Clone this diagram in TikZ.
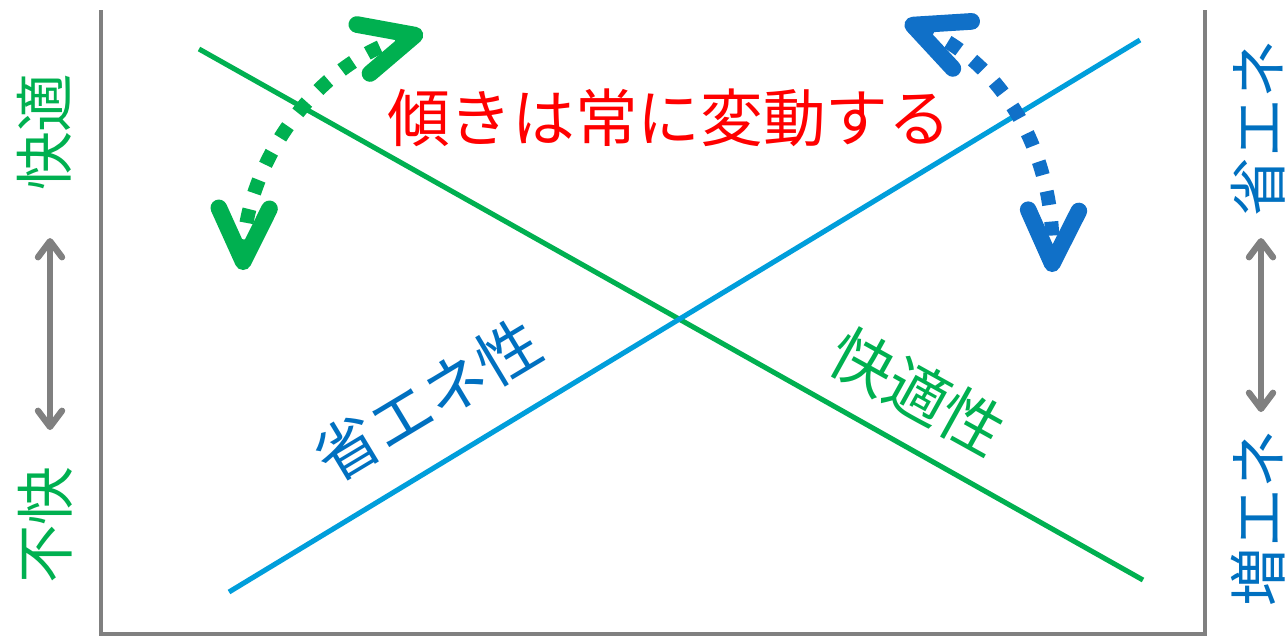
\documentclass[tikz,border=0pt]{standalone}
\usepackage{fontspec}
\newfontfamily\jp{Noto Sans CJK JP}
\usetikzlibrary{arrows.meta}
\definecolor{ggreen}{RGB}{0,176,80}
\definecolor{tblue}{RGB}{0,112,192}
\definecolor{dblue}{RGB}{16,112,200}
\definecolor{lblue}{RGB}{0,158,219}
\definecolor{fgray}{RGB}{128,128,128}
\begin{document}
\begin{tikzpicture}[x=0.75pt,y=-0.75pt,
  frameline/.style={draw=fgray,line width=3.2pt},
  mainline/.style={line width=3.8pt},
  sidelbl/.style={font=\jp\fontsize{44pt}{44pt}\selectfont, inner sep=0pt, rotate=90},
  midlbl/.style={font=\jp\fontsize{47pt}{47pt}\selectfont, inner sep=0pt},
  grayarr/.style={draw=fgray, line width=4.8pt,
    {Straight Barb[round,length=12pt,width=18pt]}-{Straight Barb[round,length=12pt,width=18pt]}},
  dotarr/.style={line width=10.5pt, dash pattern=on 10.5pt off 12.5pt,
    {Straight Barb[round,length=40pt,width=38pt,line width=12.5pt]}-{Straight Barb[round,length=40pt,width=38pt,line width=12.5pt]}}
]
\useasboundingbox (0,0) rectangle (1288,637);
\fill[white] (0,0) rectangle (1288,637);

% frame
\coordinate (ftl) at (101,10);
\coordinate (fbl) at (101,634);
\coordinate (fbr) at (1205,634);
\coordinate (ftr) at (1205,10);
\draw[frameline] (ftl) -- (fbl) -- (fbr) -- (ftr);

% main lines
\coordinate (g1) at (199,49);
\coordinate (g2) at (1143,580);
\coordinate (b1) at (229,592);
\coordinate (b2) at (1140,40);
\draw[mainline, draw=ggreen] (g1) -- (g2);
\draw[mainline, draw=lblue] (b1) -- (b2);

% side labels
\node[sidelbl, text=ggreen] (kaiteki) at (44,132) {快適};
\node[sidelbl, text=ggreen] (fukai) at (45,525) {不快};
\node[sidelbl, text=tblue] (shoene) at (1258,128) {省エネ};
\node[sidelbl, text=tblue] (zoene) at (1258,518) {増エネ};
\coordinate (la1) at (50,238);
\coordinate (la2) at (50,430);
\coordinate (ra1) at (1261,238);
\coordinate (ra2) at (1261,412);
\draw[grayarr] (la1) -- (la2);
\draw[grayarr] (ra1) -- (ra2);

% titles
\node[midlbl, text=red] (title) at (669,118) {傾きは常に変動する};
\node[midlbl, text=tblue, rotate=31] (shoenesei) at (428,400) {省エネ性};
\node[midlbl, text=ggreen, rotate=-29] (kaitekisei) at (918,392) {快適性};

% dotted curved arrows
\coordinate (ga) at (243,270);
\coordinate (gb) at (423,33);
\draw[dotarr, draw=ggreen] (ga) .. controls (245,165) and (315,62) .. (gb);
\coordinate (ba) at (905,22);
\coordinate (bb) at (1052,272);
\draw[dotarr, draw=dblue] (ba) .. controls (1000,60) and (1055,150) .. (bb);
\end{tikzpicture}
\end{document}
